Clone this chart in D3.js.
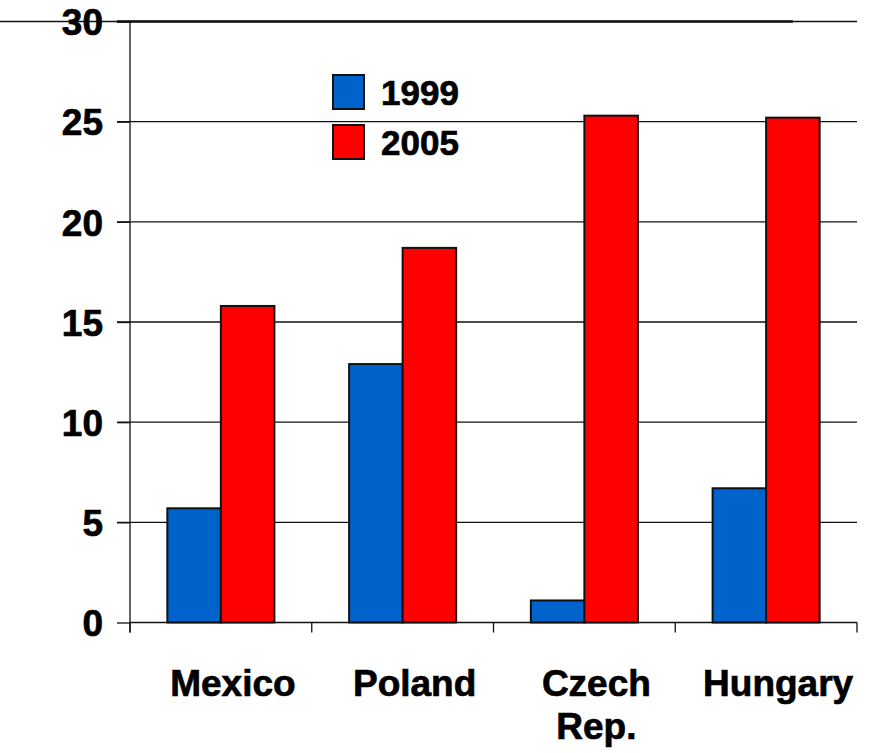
<!DOCTYPE html>
<html>
<head>
<meta charset="utf-8">
<script src="https://cdn.jsdelivr.net/npm/d3@7"></script>
<style>
  html, body { margin: 0; padding: 0; background: #fff; }
  svg { display: block; }
  text { font-family: "Liberation Sans", Arial, sans-serif; font-weight: bold; fill: #000; stroke: #000; stroke-width: 0.7px; }
</style>
</head>
<body>
<svg id="chart" width="871" height="753"></svg>
<script>
// Category labels (split into lines) and values per year
const categories = ["Mexico", "Poland", "Czech Rep.", "Hungary"];
const categoryLines = [["Mexico"], ["Poland"], ["Czech", "Rep."], ["Hungary"]];
const years = ["1999", "2005"];
const values1999 = [5.7, 12.9, 1.1, 6.7];
const values2005 = [15.8, 18.7, 25.3, 25.2];
const yTicks = [0, 5, 10, 15, 20, 25, 30];
const colors = ["#0063CC", "#FF0000"];

const svg = d3.select("#chart");
const plotLeft = 130, plotRight = 857, plotTop = 21.5, plotBottom = 622.5;

const y = d3.scaleLinear().domain([0, 30]).range([plotBottom, plotTop]);
const x0 = d3.scaleBand().domain(categories).range([plotLeft, plotRight])
  .paddingInner(0.411).paddingOuter(0.2055);
const x1 = d3.scaleBand().domain(years).range([0, x0.bandwidth()]);

const series = [values1999, values2005];
const rows = categories.map((c, i) => ({ cat: c, vals: years.map((yr, k) => ({ yr, k, v: series[k][i] })) }));

// Horizontal gridlines with left tick stubs
const gridG = svg.append("g");
yTicks.filter(t => t > 0 && t < 30).forEach(t => {
  gridG.append("line")
    .attr("x1", plotLeft - 13).attr("x2", plotRight)
    .attr("y1", y(t)).attr("y2", y(t))
    .attr("stroke", "#111").attr("stroke-width", 1.3);
});
// Top boundary line
gridG.append("line").attr("x1", 0).attr("x2", plotRight)
  .attr("y1", y(30)).attr("y2", y(30)).attr("stroke", "#111").attr("stroke-width", 1.3);
gridG.append("line").attr("x1", plotLeft - 13).attr("x2", 793)
  .attr("y1", y(30)).attr("y2", y(30)).attr("stroke", "#111").attr("stroke-width", 2.6);

// Y axis
const yAxis = d3.axisLeft(y).tickValues(yTicks).tickSize(13).tickPadding(14).tickFormat(d3.format("d"));
const yg = svg.append("g").attr("transform", `translate(${plotLeft},0)`).call(yAxis);
yg.select(".domain").remove();
yg.selectAll(".tick line").attr("stroke", "#111").attr("stroke-width", 1.3);
yg.selectAll(".tick text").attr("font-size", 37).attr("font-family", "Liberation Sans, Arial, sans-serif")
  .attr("font-weight", "bold").attr("fill", "#000").attr("dy", "0.36em");
svg.append("line").attr("x1", plotLeft).attr("x2", plotLeft).attr("y1", y(30)).attr("y2", plotBottom + 10)
  .attr("stroke", "#111").attr("stroke-width", 1.3);

// Bars
svg.append("g").selectAll("g").data(rows).join("g")
  .attr("transform", d => `translate(${x0(d.cat)},0)`)
  .selectAll("rect").data(d => d.vals).join("rect")
  .attr("x", d => x1(d.yr))
  .attr("y", d => y(d.v))
  .attr("width", x1.bandwidth())
  .attr("height", d => y(0) - y(d.v))
  .attr("fill", d => colors[d.k])
  .attr("stroke", "#111").attr("stroke-width", 2);

// Baseline and category separator ticks
svg.append("line").attr("x1", plotLeft).attr("x2", plotRight).attr("y1", plotBottom).attr("y2", plotBottom)
  .attr("stroke", "#111").attr("stroke-width", 1.3);
const step = x0.step();
const bounds = d3.range(categories.length + 1).map(i => plotLeft + i * step);
svg.append("g").selectAll("line").data(bounds).join("line")
  .attr("x1", d => d).attr("x2", d => d).attr("y1", plotBottom).attr("y2", plotBottom + 10)
  .attr("stroke", "#111").attr("stroke-width", 1.3);

// Category labels
const catG = svg.append("g");
categories.forEach((c, i) => {
  const cx = x0(c) + x0.bandwidth() / 2 + 12;
  const t = catG.append("text")
    .attr("x", cx)
    .attr("y", 696)
    .attr("text-anchor", "middle")
    .attr("font-size", 37);
  categoryLines[i].forEach((line, j) => {
    t.append("tspan").attr("x", cx).attr("dy", j === 0 ? 0 : 43).text(line);
  });
});

// Legend
const legend = svg.append("g").attr("transform", "translate(333,75)");
years.forEach((yr, k) => {
  const g = legend.append("g").attr("transform", `translate(0,${k * 50})`);
  g.append("rect").attr("width", 31).attr("height", 34)
    .attr("fill", colors[k]).attr("stroke", "#111").attr("stroke-width", 2);
  g.append("text").attr("x", 48).attr("y", 30).attr("font-size", 35).text(yr);
});
</script>
</body>
</html>
